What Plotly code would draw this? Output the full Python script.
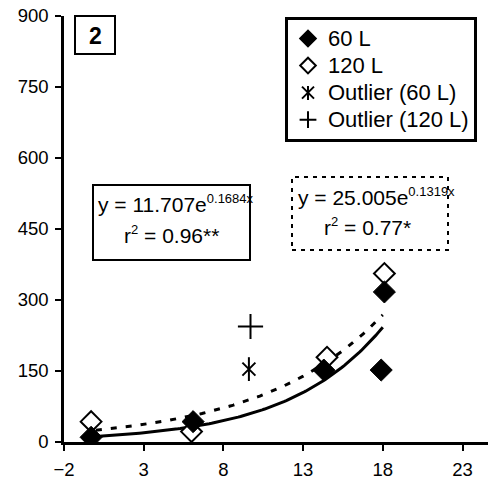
import numpy as np
import plotly.graph_objects as go

# Measured points
x_60 = [-0.3, 6.1, 14.3, 18.1, 17.9]
y_60 = [10, 43, 152, 317, 152]
x_120 = [-0.3, 6.0, 14.5, 18.1]
y_120 = [43, 22, 179, 356]
x_out60 = [9.6]
y_out60 = [154]
x_out120 = [9.7]
y_out120 = [244]

# Exponential fits y = a * exp(b x)
fit_60 = (11.707, 0.1684)
fit_120 = (25.005, 0.1319)
fit_x_range = (0.0, 18.0)

x_ticks = [-2, 3, 8, 13, 18, 23]
y_ticks = [0, 150, 300, 450, 600, 750, 900]

FONT = "Liberation Sans, Arial, sans-serif"
W, H = 488, 488
ML, MR, MT, MB = 64, 0, 16, 46


def px(x):
    return (x - ML) / (W - ML - MR)


def py(y):
    return (H - MB - y) / (H - MT - MB)


xs = np.linspace(*fit_x_range, 120)

fig = go.Figure()

fig.add_trace(go.Scatter(
    x=xs, y=fit_120[0] * np.exp(fit_120[1] * xs), mode="lines",
    line=dict(color="black", width=3, dash="6px,9px"), showlegend=False,
    hoverinfo="skip"))
fig.add_trace(go.Scatter(
    x=xs, y=fit_60[0] * np.exp(fit_60[1] * xs), mode="lines",
    line=dict(color="black", width=3), showlegend=False, hoverinfo="skip"))


def label(s):
    return '<span style="font-size:22px">' + s + "</span>"


fig.add_trace(go.Scatter(
    x=x_120, y=y_120, mode="markers", name=label("120 L"), legendrank=2,
    marker=dict(symbol="diamond", size=16, color="white",
                line=dict(color="black", width=2))))
fig.add_trace(go.Scatter(
    x=x_60, y=y_60, mode="markers", name=label("60 L"), legendrank=1,
    marker=dict(symbol="diamond", size=17, color="black",
                line=dict(color="black", width=1))))
fig.add_trace(go.Scatter(
    x=x_out60, y=y_out60, mode="markers", name=label("Outlier (60 L)"),
    legendrank=3,
    marker=dict(symbol="x-thin-open", size=13, color="black",
                line=dict(color="black", width=2))))
fig.add_trace(go.Scatter(
    x=x_out60, y=y_out60, mode="markers", showlegend=False,
    marker=dict(symbol="line-ns-open", size=17, color="black",
                line=dict(color="black", width=2))))
fig.add_trace(go.Scatter(
    x=x_out120, y=y_out120, mode="markers", name=label("Outlier (120 L)"),
    legendrank=4,
    marker=dict(symbol="cross-thin-open", size=18, color="black",
                line=dict(color="black", width=2))))

shapes = [
    # panel number box
    dict(type="rect", xref="paper", yref="paper",
         x0=px(75), x1=px(115), y0=py(54), y1=py(16),
         line=dict(color="black", width=2), fillcolor="white", layer="below"),
    # equation boxes
    dict(type="rect", xref="paper", yref="paper",
         x0=px(93), x1=px(250), y0=py(260), y1=py(185),
         line=dict(color="black", width=2)),
    dict(type="rect", xref="paper", yref="paper",
         x0=px(292), x1=px(448), y0=py(250), y1=py(177),
         line=dict(color="black", width=2, dash="4px,5px")),
    # legend backing, with the vertical stroke of the asterisk glyph
    dict(type="rect", xref="paper", yref="paper",
         x0=px(286), x1=px(484), y0=py(137), y1=py(18),
         line=dict(width=0), fillcolor="white"),
    dict(type="line", xref="paper", yref="paper",
         x0=px(308), x1=px(308), y0=py(86), y1=py(100),
         line=dict(color="black", width=2)),
]

sup = '<sup><span style="font-size:13px">{}</span></sup>'
annotations = [
    dict(text="<b>2</b>", x=px(95), y=py(36), font=dict(size=23)),
    dict(text="y = 11.707e" + sup.format("0.1684x"), x=px(96), y=py(203),
         xanchor="left", font=dict(size=21)),
    dict(text="r" + sup.format("2") + " = 0.96**", x=px(171), y=py(234),
         font=dict(size=21)),
    dict(text="y = 25.005e" + sup.format("0.1319x"), x=px(296), y=py(196),
         xanchor="left", font=dict(size=21)),
    dict(text="r" + sup.format("2") + " = 0.77*", x=px(367), y=py(226),
         font=dict(size=21)),
]
for a in annotations:
    a.update(xref="paper", yref="paper", showarrow=False)
    a.setdefault("xanchor", "center")
    a["yanchor"] = "middle"
    a["font"].update(family=FONT, color="black")

axis_common = dict(
    showline=True, linecolor="black", linewidth=2.5, showgrid=False,
    zeroline=False, ticks="outside", ticklen=6, tickwidth=2, tickcolor="black",
    tickfont=dict(family=FONT, size=18.5, color="black"))

fig.update_layout(
    width=W, height=H, margin=dict(l=ML, r=MR, t=MT, b=MB),
    paper_bgcolor="white", plot_bgcolor="white",
    xaxis=dict(range=[-2, 24.6], tickvals=x_ticks, ticklabelstandoff=3,
               **axis_common),
    yaxis=dict(range=[0, 900], tickvals=y_ticks, ticklabelstandoff=3,
               **axis_common),
    shapes=shapes, annotations=annotations,
    legend=dict(x=px(285), y=py(17), xanchor="left", yanchor="top",
                bordercolor="black", borderwidth=3, bgcolor="rgba(0,0,0,0)",
                font=dict(family=FONT, size=18.5, color="black"),
                itemsizing="constant"),
)

fig.write_html("out.html")
